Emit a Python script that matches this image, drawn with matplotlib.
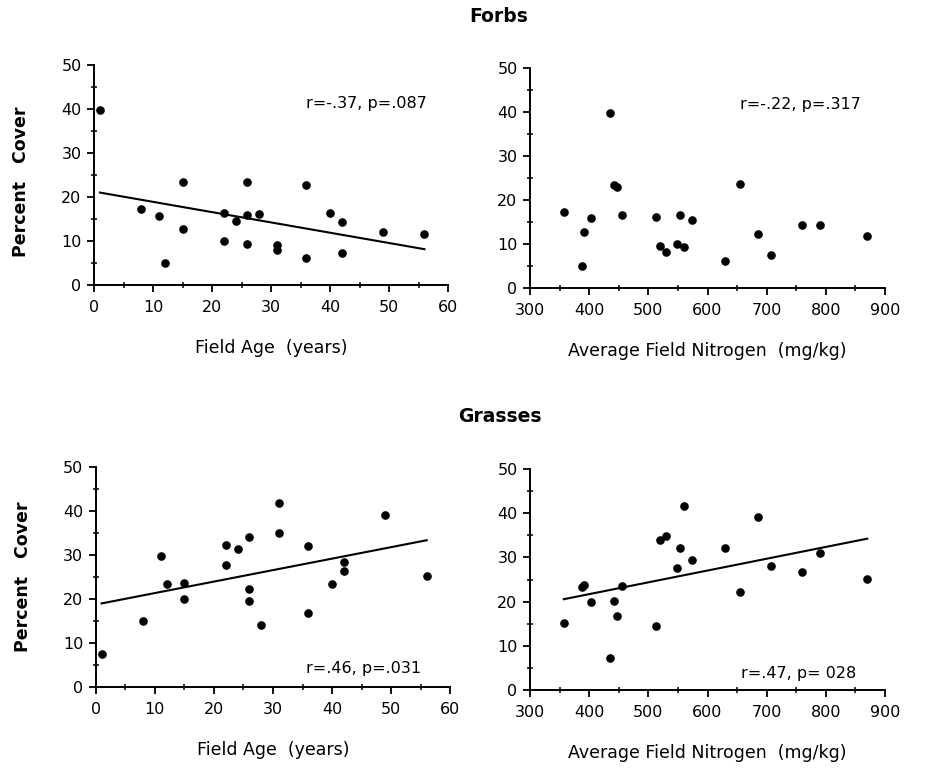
import matplotlib
matplotlib.use('Agg')
import matplotlib.pyplot as plt
import numpy as np
from matplotlib.ticker import MultipleLocator

# field ages (years) and average field nitrogen (mg/kg), one per field
field_age = [1, 8, 11, 12, 15, 15, 22, 22, 24, 26, 26, 26, 28, 31, 31, 36, 36, 40, 42, 42, 49, 56]
field_nitrogen = [357, 388, 392, 403, 436, 442, 447, 455, 513, 520, 530, 549,
                  554, 560, 574, 630, 655, 685, 707, 760, 790, 870]

# percent cover, ordered like field_age
forb_cover_by_age = [39.8, 17.2, 15.7, 5.1, 23.3, 12.7, 16.4, 10.1, 14.5, 23.5, 15.8,
                     9.3, 16.1, 9.2, 8.0, 22.7, 6.1, 16.3, 14.3, 7.3, 12.0, 11.7]
grass_cover_by_age = [7.5, 14.9, 29.7, 23.3, 23.7, 20.0, 32.2, 27.7, 31.3, 34.0, 22.2,
                      19.6, 14.0, 41.8, 35.0, 32.1, 16.7, 23.3, 28.3, 26.4, 39.0, 25.1]

# percent cover, ordered like field_nitrogen
forb_cover_by_n = [17.3, 4.9, 12.7, 15.9, 39.8, 23.3, 23.0, 16.5, 16.2, 9.5, 8.1,
                   10.0, 16.5, 9.3, 15.5, 6.2, 23.6, 12.3, 7.4, 14.4, 14.4, 11.9]
grass_cover_by_n = [15.2, 23.4, 23.8, 19.9, 7.2, 20.2, 16.8, 23.5, 14.4, 34.0, 34.9,
                    27.6, 32.1, 41.7, 29.5, 32.1, 22.2, 39.1, 28.1, 26.6, 31.0, 25.2]

stats = ['r=-.37, p=.087', 'r=-.22, p=.317', 'r=.46, p=.031', 'r=.47, p= 028']


def panel(ax, x, y, xlim, xmajor, xminor, xlabel, stat, stat_pos, fit=True,
          ylabel_y=None):
    x = np.asarray(x, float)
    y = np.asarray(y, float)
    ax.plot(x, y, 'o', color='black', markersize=6.2, markeredgewidth=0)
    if fit:
        slope, icpt = np.polyfit(x, y, 1)
        xs = np.array([x.min(), x.max()])
        ax.plot(xs, slope * xs + icpt, color='black', lw=1.5)

    ax.set_xlim(*xlim)
    ax.set_ylim(0, 50)
    ax.xaxis.set_major_locator(MultipleLocator(xmajor))
    ax.xaxis.set_minor_locator(MultipleLocator(xminor))
    ax.yaxis.set_major_locator(MultipleLocator(10))
    ax.yaxis.set_minor_locator(MultipleLocator(5))
    for s in ['top', 'right']:
        ax.spines[s].set_visible(False)
    for s in ['left', 'bottom']:
        ax.spines[s].set_linewidth(1.4)
    ax.tick_params(which='major', direction='out', length=5, width=1.3,
                   labelsize=11.5, pad=4)
    ax.tick_params(axis='x', which='major', pad=6)
    ax.tick_params(which='minor', direction='inout', length=4, width=1.1)

    ax.set_xlabel(xlabel, fontsize=12.5, va='center')
    ax.xaxis.set_label_coords(0.5, -0.285)
    if ylabel_y is not None:
        ax.set_ylabel('Percent   Cover', fontsize=12.5, fontweight='bold')
        ax.yaxis.set_label_coords(-0.18, ylabel_y)

    ax.text(stat_pos[0], stat_pos[1], stat, transform=ax.transAxes,
            ha='right', va='center', fontsize=11.5)


fig = plt.figure(figsize=(9.48, 7.69), dpi=100)
ax_tl = fig.add_axes([0.0992, 0.6294, 0.3734, 0.2861])
ax_tr = fig.add_axes([0.5591, 0.6255, 0.3745, 0.2861])
ax_bl = fig.add_axes([0.1009, 0.1066, 0.3741, 0.2865])
ax_br = fig.add_axes([0.5591, 0.1027, 0.3745, 0.2874])

age_label = 'Field Age  (years)'
n_label = 'Average Field Nitrogen  (mg/kg)'

panel(ax_tl, field_age, forb_cover_by_age, (0, 60), 10, 5, age_label,
      stats[0], (0.94, 0.827), ylabel_y=0.47)
panel(ax_tr, field_nitrogen, forb_cover_by_n, (300, 900), 100, 50, n_label,
      stats[1], (0.932, 0.832), fit=False)
panel(ax_bl, field_age, grass_cover_by_age, (0, 60), 10, 5, age_label,
      stats[2], (0.917, 0.083), ylabel_y=0.5)
panel(ax_br, field_nitrogen, grass_cover_by_n, (300, 900), 100, 50, n_label,
      stats[3], (0.920, 0.076))

fig.text(0.526, 0.978, 'Forbs', ha='center', va='center', fontsize=13.5, fontweight='bold')
fig.text(0.527, 0.459, 'Grasses', ha='center', va='center', fontsize=13.5, fontweight='bold')

fig.savefig('out.png', dpi=100)
